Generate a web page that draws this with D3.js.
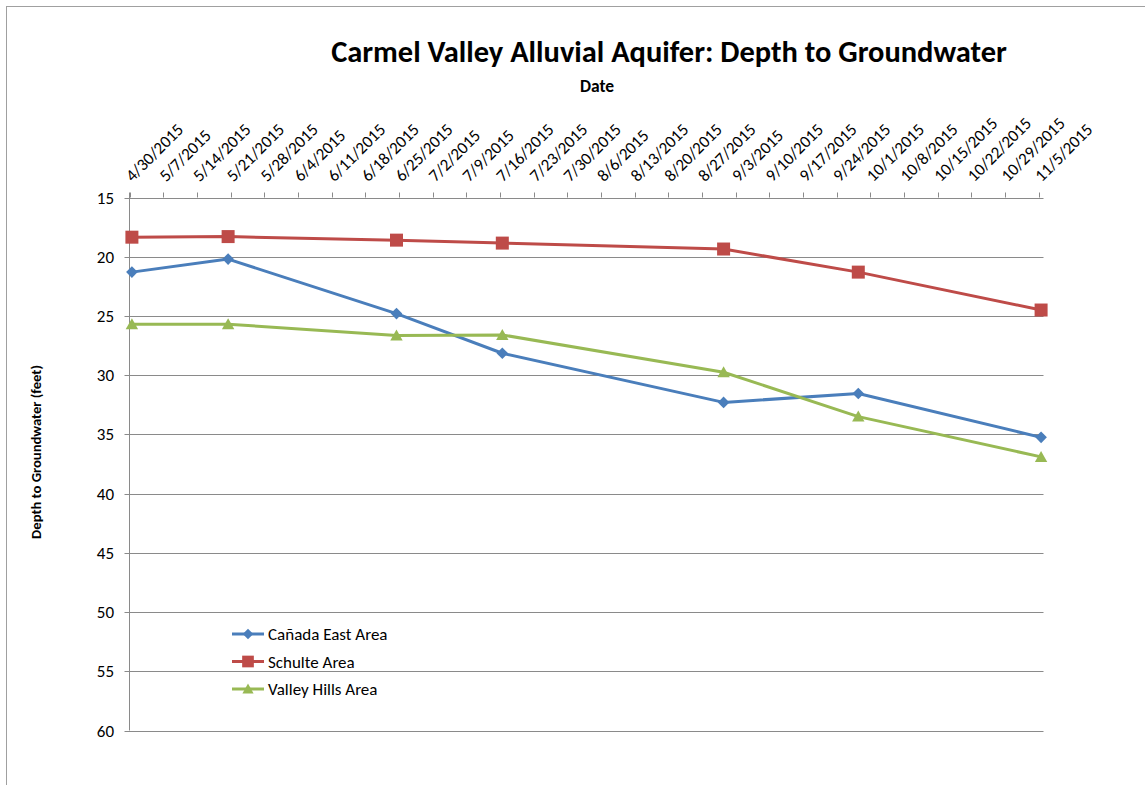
<!DOCTYPE html>
<html><head><meta charset="utf-8">
<script src="https://cdn.jsdelivr.net/npm/d3@7"></script>
<style>body{margin:0;background:#fff}svg{display:block}text{font-family:Carlito,Calibri,"Open Sans",sans-serif}</style>
</head><body><svg id="c" width="1145" height="785"></svg>
<script>
const title = "Carmel Valley Alluvial Aquifer: Depth to Groundwater";
const xTitle = "Date";
const yTitle = "Depth to Groundwater (feet)";
const sampleDates = ["2015-04-30","2015-05-20","2015-06-24","2015-07-16","2015-08-31","2015-09-28","2015-11-05"];
const canadaEast = [21.3, 20.2, 24.8, 28.15, 32.3, 31.55, 35.25];
const schulte = [18.35, 18.3, 18.6, 18.85, 19.35, 21.3, 24.5];
const valleyHills = [25.7, 25.7, 26.65, 26.6, 29.75, 33.5, 36.9];
const seriesNames = ["Cañada East Area","Schulte Area","Valley Hills Area"];
const seriesColors = ["#4a7ebb","#be4b48","#98b954"];
const yTicks = [15,20,25,30,35,40,45,50,55,60];
const tickStart = "2015-04-30", tickEnd = "2015-11-05";

const svg = d3.select("#c");
const parse = d3.utcParse("%Y-%m-%d");
const fmt = d3.utcFormat("%-m/%-d/%Y");
const L = 129.5, R = 1043.5, T = 197.5, B = 730.5;
const d0 = parse(tickStart), d1 = d3.utcDay.offset(parse(tickEnd), 1);
const x = d3.scaleUtc().domain([d0, d1]).range([L, R]);
const y = d3.scaleLinear().domain([15, 60]).range([T, B]);

// frame
svg.append("rect").attr("x",6.5).attr("y",6.5).attr("width",1200).attr("height",900)
  .attr("fill","none").attr("stroke","#a0a0a0");

// gridlines
svg.append("g").selectAll("line").data(yTicks).join("line")
  .attr("x1", L-5).attr("x2", R).attr("y1", d=>Math.round(y(d))+0.5).attr("y2", d=>Math.round(y(d))+0.5)
  .attr("stroke","#8a8a8a").attr("stroke-width",1);
svg.append("line").attr("x1",L).attr("x2",L).attr("y1",T-5).attr("y2",B).attr("stroke","#8a8a8a");
svg.append("g").selectAll("text").data(yTicks).join("text")
  .attr("x", 114).attr("y", d=>y(d)+6).attr("text-anchor","end")
  .attr("font-size",17).attr("fill","#000").text(d=>d);

// x ticks (weekly)
const weekly = d3.range(0, 28).map(i => d3.utcDay.offset(d0, 7*i));
svg.append("g").selectAll("line").data(weekly).join("line")
  .attr("x1", d=>Math.round(x(d))+0.5).attr("x2", d=>Math.round(x(d))+0.5)
  .attr("y1", T-5).attr("y2", T).attr("stroke","#8a8a8a");
svg.append("g").selectAll("text").data(weekly).join("text")
  .attr("transform", d=>`translate(${x(d)+3},${T-15}) rotate(-45)`)
  .attr("font-size",17).attr("fill","#000").text(d=>fmt(d));

// titles
const tt = svg.append("text").attr("x",669).attr("y",62).attr("text-anchor","middle")
  .attr("font-size",25).attr("font-weight","bold").text(title);
const w = tt.node().getComputedTextLength();
if (w > 0) tt.attr("font-size", 25*676/w);
svg.append("text").attr("x",597).attr("y",92).attr("text-anchor","middle")
  .attr("font-size",17.5).attr("font-weight","bold").text(xTitle);
const yt = svg.append("text").attr("transform","translate(41,452) rotate(-90)").attr("text-anchor","middle")
  .attr("font-size",15).attr("font-weight","bold").text(yTitle);
const wy = yt.node().getComputedTextLength();
if (wy > 0) yt.attr("font-size", 15*174/wy);

// series
const allSeries = [canadaEast, schulte, valleyHills];
const dates = sampleDates.map(s => d3.utcHour.offset(parse(s), 12));
const line = d3.line().x(d=>x(d[0])).y(d=>y(d[1]));
function marker(sel, i){
  if (i===0) sel.attr("d", "M0,-5.8L5.8,0L0,5.8L-5.8,0Z");
  else if (i===1) sel.attr("d", "M-6.5,-6.5H6.5V6.5H-6.5Z");
  else sel.attr("d", "M0,-6L6.2,5H-6.2Z");
}
allSeries.forEach((vals, i) => {
  const pts = vals.map((v, j) => [dates[j], v]);
  svg.append("path").attr("d", line(pts)).attr("fill","none")
    .attr("stroke", seriesColors[i]).attr("stroke-width",3).attr("stroke-linejoin","round");
  svg.append("g").selectAll("path").data(pts).join("path")
    .attr("transform", d=>`translate(${x(d[0])},${y(d[1])})`)
    .attr("fill", seriesColors[i]).call(marker, i);
});

// legend
const leg = svg.append("g");
seriesNames.forEach((n, i) => {
  const yy = 634 + i*27.5;
  leg.append("line").attr("x1",232).attr("x2",264).attr("y1",yy).attr("y2",yy)
    .attr("stroke",seriesColors[i]).attr("stroke-width",3);
  const m = leg.append("path").attr("transform",`translate(248,${yy}) scale(0.9)`).attr("fill",seriesColors[i]);
  marker(m, i);
  leg.append("text").attr("x",268).attr("y",yy+6).attr("font-size",17).text(n);
});
</script></body></html>
